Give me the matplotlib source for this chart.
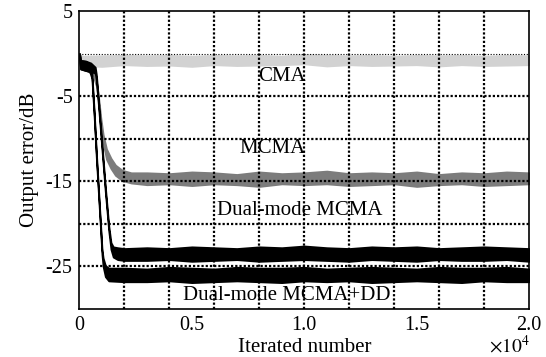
import matplotlib.pyplot as plt

plt.rcParams['font.family'] = ['Liberation Serif', 'DejaVu Serif']
plt.rcParams['mathtext.fontset'] = 'stix'
plt.rcParams['axes.unicode_minus'] = False

# iterations are in units of 1e4, error in dB (upper / lower edge of the noisy trace)
cma_x = [0, 0.01, 0.1, 0.2, 0.3, 0.4, 0.5, 0.6, 0.7, 0.8, 0.9, 1.0, 1.1,
         1.2, 1.3, 1.4, 1.5, 1.6, 1.7, 1.8, 1.9, 2.0]
cma_hi = [0.0, -0.3, -0.25, -0.2, -0.25, -0.2, -0.3, -0.2, -0.25, -0.2, -0.3,
          -0.1, -0.2, -0.25, -0.2, -0.3, -0.2, -0.25, -0.2, -0.3, -0.2, -0.25]
cma_lo = [-0.3, -1.4, -1.5, -1.3, -1.4, -1.35, -1.5, -1.3, -1.4, -1.35, -1.3,
          -1.2, -1.45, -1.3, -1.4, -1.35, -1.3, -1.45, -1.3, -1.4, -1.35, -1.3]

mcma_x = [0, 0.005, 0.03, 0.06, 0.075, 0.085, 0.095, 0.105, 0.12, 0.14, 0.16,
          0.19, 0.23, 0.3, 0.4, 0.5, 0.6, 0.7, 0.8, 0.9, 1.0, 1.1, 1.2, 1.3,
          1.4, 1.5, 1.6, 1.7, 1.8, 1.9, 2.0]
mcma_hi = [0.0, -1.0, -1.4, -2.0, -3.2, -5.2, -7.6, -9.5, -11.2, -12.3, -13.1,
           -13.7, -14.0, -14.0, -14.1, -13.9, -14.0, -14.2, -13.9, -14.1, -14.0,
           -13.8, -14.1, -14.0, -14.1, -13.9, -14.2, -14.0, -14.1, -13.9, -14.0]
mcma_lo = [-0.5, -1.6, -1.9, -2.5, -3.8, -5.8, -8.4, -10.5, -12.4, -13.5, -14.3,
           -14.9, -15.2, -15.4, -15.3, -15.5, -15.3, -15.4, -15.6, -15.3, -15.4,
           -15.3, -15.5, -15.4, -15.3, -15.6, -15.4, -15.3, -15.5, -15.4, -15.3]

dual_x = [0, 0.005, 0.03, 0.05, 0.07, 0.075, 0.085, 0.10, 0.115, 0.13, 0.14,
          0.15, 0.17, 0.2, 0.3, 0.4, 0.5, 0.6, 0.7, 0.8, 0.9, 1.0, 1.1, 1.2,
          1.3, 1.4, 1.5, 1.6, 1.7, 1.8, 1.9, 2.0]
dual_hi = [0.0, -0.8, -0.9, -1.1, -1.6, -2.5, -5.7, -10.7, -15.7, -20.2, -22.2,
           -22.7, -22.8, -22.9, -22.8, -22.9, -22.7, -22.8, -22.9, -22.7, -22.8,
           -22.6, -22.8, -22.9, -22.7, -22.8, -22.7, -22.9, -22.8, -22.7, -22.8,
           -22.9]
dual_lo = [-0.5, -1.8, -2.0, -2.1, -2.3, -3.1, -6.3, -11.3, -16.3, -20.8, -23.0,
           -23.9, -24.2, -24.3, -24.3, -24.2, -24.4, -24.3, -24.2, -24.4, -24.3,
           -24.2, -24.3, -24.4, -24.2, -24.3, -24.4, -24.2, -24.3, -24.3, -24.2,
           -24.4]

dd_x = [0, 0.005, 0.03, 0.045, 0.055, 0.065, 0.075, 0.085, 0.095, 0.10, 0.105,
        0.115, 0.13, 0.2, 0.3, 0.4, 0.5, 0.6, 0.7, 0.8, 0.9, 1.0, 1.1, 1.2,
        1.3, 1.4, 1.5, 1.6, 1.7, 1.8, 1.9, 2.0]
dd_hi = [0.0, -0.8, -0.9, -1.3, -2.3, -6.7, -11.7, -16.2, -20.7, -23.0, -24.0,
         -24.9, -25.2, -25.2, -25.3, -25.1, -25.2, -25.3, -25.1, -25.2, -25.2,
         -25.1, -25.3, -25.2, -25.1, -25.2, -25.3, -25.1, -25.2, -25.2, -25.1,
         -25.3]
dd_lo = [-0.5, -1.8, -2.0, -2.1, -2.9, -7.3, -12.3, -16.8, -21.3, -23.6, -25.0,
         -26.2, -26.7, -26.8, -26.8, -26.7, -26.9, -26.8, -26.7, -26.8, -26.9,
         -26.7, -26.8, -26.7, -26.9, -26.8, -26.7, -26.8, -26.9, -26.7, -26.8,
         -26.8]

labels = ['CMA', 'MCMA', 'Dual-mode MCMA', 'Dual-mode MCMA+DD']
label_x = [0.90, 0.86, 0.98, 0.92]
label_y = [-2.7, -11.2, -18.4, -28.4]

xticks = [0, 0.5, 1.0, 1.5, 2.0]
xtick_labels = ['0', '0.5', '1.0', '1.5', '2.0']
yticks = [5, -5, -15, -25]
xgrid = [0.2, 0.4, 0.6, 0.8, 1.0, 1.2, 1.4, 1.6, 1.8]
ygrid = [-5, -10, -15, -20, -25]

fig = plt.figure(figsize=(5.46, 3.57), dpi=100)
ax = fig.add_axes([0.1456, 0.1345, 0.8234, 0.8345])

curves = [(cma_x, cma_hi, cma_lo, '#d2d2d2'),
          (mcma_x, mcma_hi, mcma_lo, '#7c7c7c'),
          (dual_x, dual_hi, dual_lo, 'black'),
          (dd_x, dd_hi, dd_lo, 'black')]
for x, hi, lo, c in curves:
    ax.fill_between(x, lo, hi, facecolor=c, edgecolor=c, linewidth=1.3, zorder=2)

# grid drawn over the traces, like the original
for gx in xgrid:
    ax.axvline(gx, color='black', lw=1.6, ls=(0, (1, 0.9)), zorder=3)
for gy in ygrid:
    ax.axhline(gy, color='black', lw=1.6, ls=(0, (1, 0.9)), zorder=3)
ax.axhline(0, color='black', lw=0.8, ls=(0, (1, 1.5)), zorder=3)

for t, tx, ty in zip(labels, label_x, label_y):
    ax.text(tx, ty, t, ha='center', va='center', fontsize=15, zorder=4)

ax.set_xlim(0, 2.0)
ax.set_ylim(-30, 5)
ax.set_xticks(xticks)
ax.set_xticklabels(xtick_labels)
ax.set_yticks(yticks)
ax.tick_params(labelsize=14.5, length=0, pad=5)
for s in ax.spines.values():
    s.set_linewidth(1.2)

ax.set_xlabel('Iterated number', fontsize=15, labelpad=2)
ax.set_ylabel('Output error/dB', fontsize=15, labelpad=5)
fig.text(530 / 546, 1 - 353 / 357, r'$\times10^{4}$', ha='right', va='baseline',
         fontsize=14)

fig.savefig('out.png', dpi=100)
